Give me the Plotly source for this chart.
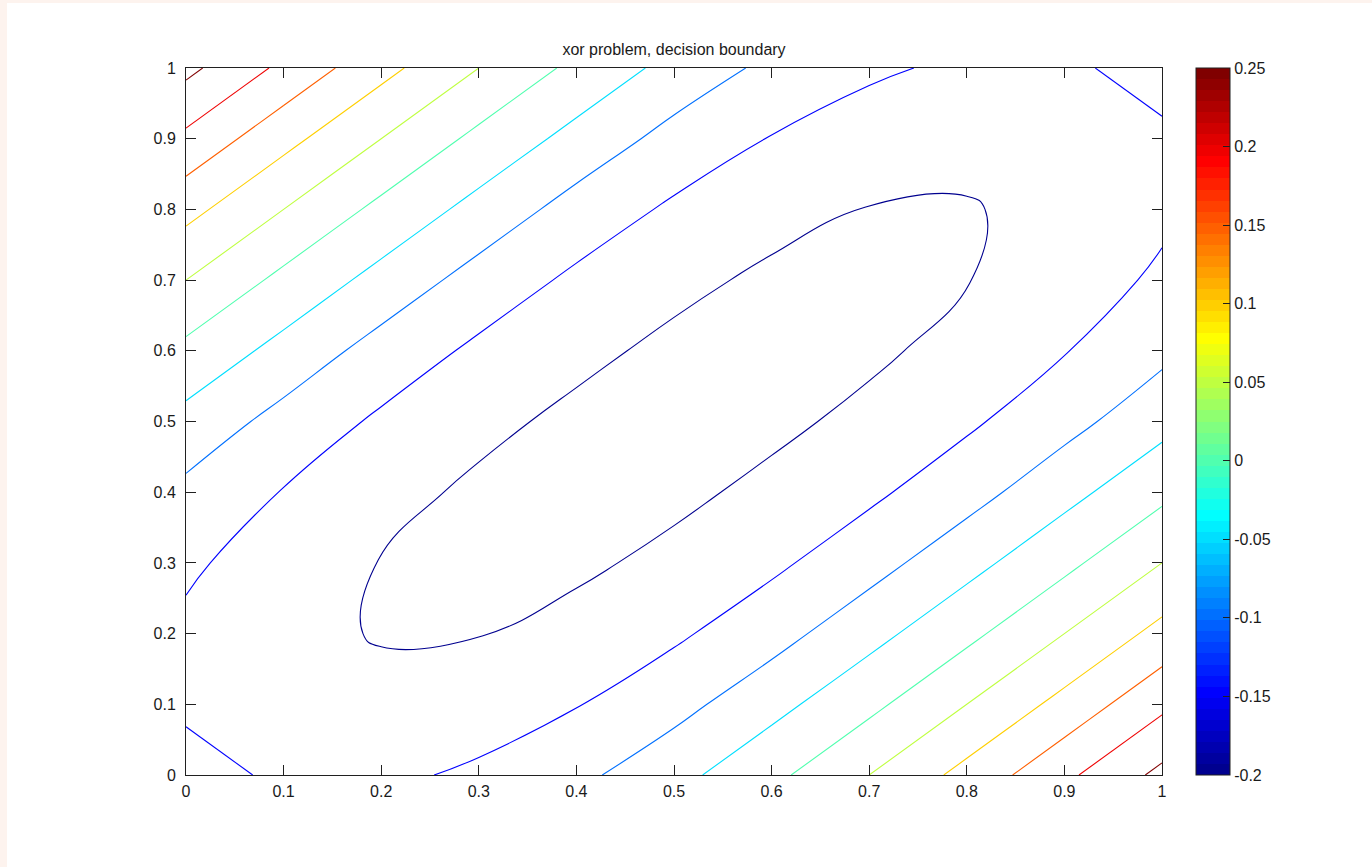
import plotly.graph_objects as go

# ---- data ----
x_grid = [0.0, 0.1, 0.2, 0.3, 0.4, 0.5, 0.6, 0.7, 0.8, 0.9, 1.0]
y_grid = [0.0, 0.1, 0.2, 0.3, 0.4, 0.5, 0.6, 0.7, 0.8, 0.9, 1.0]

# network output on the grid; row k is y = y_grid[k]
z_rows = [
    [-0.1228, -0.1370, -0.1408, -0.1255, -0.0987, -0.0565, -0.0088, 0.0475, 0.1064, 0.1726, 0.2388],
    [-0.1370, -0.1542, -0.1666, -0.1536, -0.1345, -0.1032, -0.0567, -0.0088, 0.0475, 0.1064, 0.1726],
    [-0.1408, -0.1666, -0.1800, -0.1790, -0.1619, -0.1397, -0.1053, -0.0570, -0.0088, 0.0475, 0.1064],
    [-0.1255, -0.1536, -0.1790, -0.1926, -0.1862, -0.1657, -0.1411, -0.1054, -0.0570, -0.0088, 0.0475],
    [-0.0987, -0.1345, -0.1619, -0.1862, -0.1995, -0.1881, -0.1660, -0.1411, -0.1053, -0.0567, -0.0088],
    [-0.0565, -0.1032, -0.1397, -0.1657, -0.1881, -0.2000, -0.1881, -0.1657, -0.1397, -0.1032, -0.0565],
    [-0.0088, -0.0567, -0.1053, -0.1411, -0.1660, -0.1881, -0.1995, -0.1862, -0.1619, -0.1345, -0.0987],
    [0.0475, -0.0088, -0.0570, -0.1054, -0.1411, -0.1657, -0.1862, -0.1926, -0.1790, -0.1536, -0.1255],
    [0.1064, 0.0475, -0.0088, -0.0570, -0.1053, -0.1397, -0.1619, -0.1790, -0.1800, -0.1666, -0.1408],
    [0.1726, 0.1064, 0.0475, -0.0088, -0.0567, -0.1032, -0.1345, -0.1536, -0.1666, -0.1542, -0.1370],
    [0.2388, 0.1726, 0.1064, 0.0475, -0.0088, -0.0565, -0.0987, -0.1255, -0.1408, -0.1370, -0.1228],
]

level_start = -0.1775
level_end = 0.2275
level_step = 0.045

color_min = -0.2
color_max = 0.25

cbar_ticks = [-0.2, -0.15, -0.1, -0.05, 0.0, 0.05, 0.1, 0.15, 0.2, 0.25]
cbar_labels = ["-0.2", "-0.15", "-0.1", "-0.05", "0", "0.05", "0.1", "0.15", "0.2", "0.25"]

axis_ticks = [0.0, 0.1, 0.2, 0.3, 0.4, 0.5, 0.6, 0.7, 0.8, 0.9, 1.0]
axis_labels = ["0", "0.1", "0.2", "0.3", "0.4", "0.5", "0.6", "0.7", "0.8", "0.9", "1"]

title_text = "xor problem, decision boundary"


# ---- MATLAB jet(64) colormap as a stepped Plotly colorscale ----
def jet(m=64):
    n = -(-m // 4)
    u = [(i + 1) / n for i in range(n)] + [1.0] * (n - 1) + [(n - i) / n for i in range(n)]
    g0 = -(-n // 2) - (1 if m % 4 == 1 else 0)
    rgb = [[0.0, 0.0, 0.0] for _ in range(m)]
    for k, val in enumerate(u):
        g = g0 + k  # zero-based row
        r = g + n
        b = g - n
        if 0 <= g < m:
            rgb[g][1] = val
        if 0 <= r < m:
            rgb[r][0] = val
        if 0 <= b < m:
            rgb[b][2] = val
    return ["rgb(%d,%d,%d)" % tuple(round(255 * c) for c in row) for row in rgb]


jet_colors = jet(64)
colorscale = []
for k, c in enumerate(jet_colors):
    colorscale.append([k / 64, c])
    colorscale.append([(k + 1) / 64, c])

FONT = "Liberation Sans, Arial, Helvetica, sans-serif"
TXT = "#1a1a1a"
W, H = 1372, 867
PL, PR, PT, PB = 186, 1162, 68, 775   # plot area in page pixels
PW, PH = PR - PL, PB - PT

fig = go.Figure()

fig.add_trace(go.Contour(
    x=x_grid, y=y_grid, z=z_rows,
    zmin=color_min, zmax=color_max, zauto=False,
    colorscale=colorscale,
    contours=dict(coloring="lines", start=level_start, end=level_end, size=level_step),
    line=dict(width=1.1, smoothing=1.3),
    showscale=False,
    hoverinfo="skip",
))

# colour bar (hidden marker trace carrying the colour scale)
cb_left = (1196 - PL) / PW
fig.add_trace(go.Scatter(
    x=[-5, -5], y=[-5, -5], mode="markers",
    marker=dict(
        color=[color_min, color_max], cmin=color_min, cmax=color_max,
        colorscale=colorscale, showscale=True, size=1,
        colorbar=dict(
            x=cb_left, xanchor="left", xpad=0,
            y=0.5, yanchor="middle", ypad=0,
            len=1.0, lenmode="fraction",
            thickness=34, thicknessmode="pixels",
            outlinewidth=1, outlinecolor="#202020",
            tickvals=cbar_ticks, ticktext=cbar_labels,
            ticks="inside", ticklen=7, tickcolor="#202020", tickwidth=1,
            tickfont=dict(family=FONT, size=16, color=TXT),
            borderwidth=0,
        ),
    ),
    hoverinfo="skip", showlegend=False,
))

# left-side colour bar ticks (MATLAB draws them on both edges)
shapes = []
for t in cbar_ticks[1:-1]:
    yy = (t - color_min) / (color_max - color_min)
    shapes.append(dict(type="line", xref="paper", yref="paper",
                       x0=cb_left, x1=cb_left + 7 / PW, y0=yy, y1=yy,
                       line=dict(color="#202020", width=1)))

# pale window border strips (left and top)
shapes.append(dict(type="rect", xref="paper", yref="paper", layer="below",
                   x0=(0 - PL) / PW, x1=(7 - PL) / PW, y0=(PB - H) / PH, y1=PB / PH,
                   line=dict(width=0), fillcolor="#fdf3ee"))
shapes.append(dict(type="rect", xref="paper", yref="paper", layer="below",
                   x0=(0 - PL) / PW, x1=(W - PL) / PW, y0=(PB - 3) / PH, y1=PB / PH,
                   line=dict(width=0), fillcolor="#fdf3ee"))

axis_common = dict(
    range=[0, 1], showgrid=False, zeroline=False,
    showline=True, linecolor="#202020", linewidth=1, mirror="allticks",
    ticks="inside", ticklen=10, tickcolor="#202020", tickwidth=1,
    tickvals=axis_ticks, ticktext=axis_labels,
    tickfont=dict(family=FONT, size=16, color=TXT),
    fixedrange=True,
)

fig.update_layout(
    width=W, height=H, autosize=False,
    margin=dict(l=PL, r=W - PR, t=PT, b=H - PB, pad=0),
    paper_bgcolor="white", plot_bgcolor="white",
    title=dict(text=title_text, x=0.5, xref="paper", xanchor="center",
               y=1 - 49 / H, yref="container", yanchor="middle",
               font=dict(family=FONT, size=16, color=TXT)),
    xaxis=dict(**axis_common, ticklabelstandoff=2),
    yaxis=dict(**axis_common, ticklabelstandoff=6),
    shapes=shapes,
    showlegend=False,
)

fig.write_html("out.html", config={"displayModeBar": False},
               post_script="document.body.style.margin='0';")
